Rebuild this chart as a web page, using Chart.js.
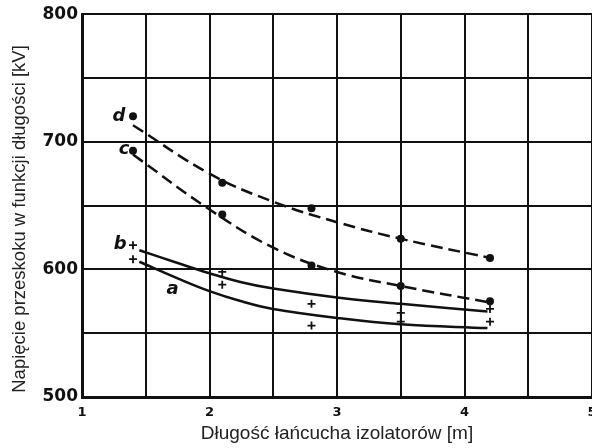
<!DOCTYPE html>
<html>
<head>
    <title>Napięcie przeskoku</title>
    <script src="https://cdn.jsdelivr.net/npm/chart.js"></script>
    <style>
        body { margin: 0; overflow: hidden; background: #fff; }
        #wrap { width: 610px; height: 448px; }
    </style>
</head>
<body>
    <div id="wrap"><canvas id="chart"></canvas></div>
    <script>
        // measured points (string length in m, flashover voltage in kV)
        const lengthX = [1.4, 2.1, 2.8, 3.5, 4.2];
        const pointsD = [720, 668, 648, 624, 609];
        const pointsC = [693, 643, 603, 587, 575];
        const pointsB = [619, 598, 573, 566, 569];
        const pointsA = [608, 588, 556, 559, 559];

        // fitted curves as drawn on the plot
        const curveDX = [1.4, 2.0, 2.5, 3.0, 3.5, 4.2];
        const curveDY = [713, 675, 653, 637, 624, 609];
        const curveCX = [1.4, 2.0, 2.5, 3.0, 3.5, 4.2];
        const curveCY = [690, 647, 617, 598, 587, 574];
        const curveBX = [1.45, 1.75, 2.0, 2.25, 2.5, 3.0, 3.5, 4.18];
        const curveBY = [615, 605, 597, 590, 585, 578, 573, 567];
        const curveAX = [1.45, 1.75, 2.0, 2.25, 2.5, 3.0, 3.5, 4.18];
        const curveAY = [606, 593, 583, 575, 569, 562, 557, 554];

        // curve letters, placed in data units
        const curveNames = ['a', 'b', 'c', 'd'];
        const nameX = [1.71, 1.30, 1.33, 1.29];
        const nameY = [584, 620, 694, 720];

        const xTicks = [1, 2, 3, 4, 5];
        const yTicks = [500, 600, 700, 800];

        const xTitle = 'Długość łańcucha izolatorów [m]';
        const yTitle = 'Napięcie przeskoku w funkcji długości [kV]';

        function pairs(xs, ys) {
            return xs.map((x, i) => ({ x: x, y: ys[i] }));
        }

        function curve(xs, ys, dashed) {
            return {
                data: pairs(xs, ys),
                showLine: true,
                borderColor: '#111',
                borderWidth: 2.5,
                borderDash: dashed ? [12, 6] : [],
                pointRadius: 0,
                tension: 0.4
            };
        }

        function marks(ys, style) {
            return {
                data: pairs(lengthX, ys),
                showLine: false,
                pointStyle: style,
                pointRadius: 4,
                backgroundColor: '#111',
                borderColor: '#111',
                borderWidth: style === 'circle' ? 0 : 1.8
            };
        }

        const extraText = {
            id: 'extraText',
            afterDraw(chart) {
                const ctx = chart.ctx;
                const xs = chart.scales.x, ys = chart.scales.y;
                ctx.save();
                ctx.fillStyle = '#111';
                ctx.font = 'bold italic 18px "DejaVu Sans"';
                ctx.textAlign = 'center';
                ctx.textBaseline = 'middle';
                curveNames.forEach((n, i) => {
                    ctx.fillText(n, xs.getPixelForValue(nameX[i]), ys.getPixelForValue(nameY[i]));
                });
                // y axis title
                ctx.fillStyle = '#222';
                ctx.font = '18.5px "Liberation Sans"';
                ctx.translate(19.5, 219);
                ctx.rotate(-Math.PI / 2);
                ctx.fillText(yTitle, 0, 0);
                ctx.restore();
            }
        };

        new Chart(document.getElementById('chart'), {
            type: 'scatter',
            data: {
                datasets: [
                    curve(curveDX, curveDY, true),
                    curve(curveCX, curveCY, true),
                    curve(curveBX, curveBY, false),
                    curve(curveAX, curveAY, false),
                    marks(pointsD, 'circle'),
                    marks(pointsC, 'circle'),
                    marks(pointsB, 'cross'),
                    marks(pointsA, 'cross')
                ]
            },
            options: {
                responsive: true,
                maintainAspectRatio: false,
                animation: false,
                layout: { padding: { top: 14, right: 18, left: 0, bottom: 0 } },
                plugins: { legend: { display: false }, tooltip: { enabled: false } },
                scales: {
                    x: {
                        type: 'linear',
                        min: 1,
                        max: 5,
                        afterFit: s => { s.height = 51; },
                        grid: { color: '#111', lineWidth: 2, drawTicks: false },
                        border: { color: '#111', width: 3 },
                        ticks: {
                            stepSize: 0.5,
                            autoSkip: false,
                            maxRotation: 0,
                            padding: 8,
                            color: '#111',
                            font: { family: 'DejaVu Sans', size: 13, weight: 'bold' },
                            callback: v => xTicks.includes(v) ? String(v) : ''
                        },
                        title: {
                            display: true,
                            text: xTitle,
                            color: '#222',
                            font: { family: 'Liberation Sans', size: 19 },
                            padding: { top: 0, bottom: 3 }
                        }
                    },
                    y: {
                        min: 500,
                        max: 800,
                        afterFit: s => { s.width = 82; },
                        grid: { color: '#111', lineWidth: 2, drawTicks: false },
                        border: { color: '#111', width: 3 },
                        ticks: {
                            stepSize: 50,
                            padding: 4,
                            color: '#111',
                            font: { family: 'DejaVu Sans', size: 17, weight: 'bold' },
                            callback: v => yTicks.includes(v) ? String(v) : ''
                        }
                    }
                }
            },
            plugins: [extraText]
        });
    </script>
</body>
</html>
